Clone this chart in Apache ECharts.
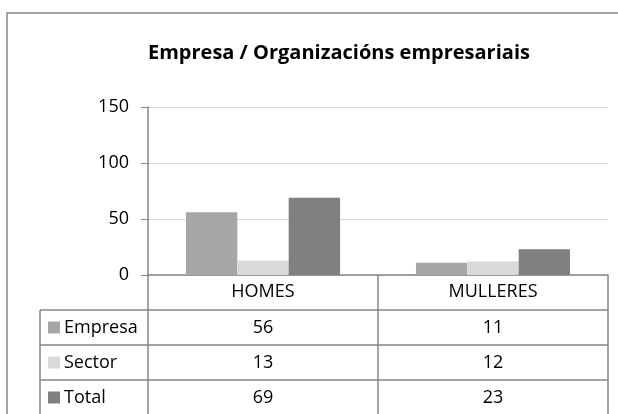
<!DOCTYPE html>
<html>
<head>
<meta charset="utf-8">
<script src="https://cdn.jsdelivr.net/npm/echarts@6/dist/echarts.min.js"></script>
<style>
  html, body { margin: 0; padding: 0; background: #fff; }
  #chart { width: 618px; height: 414px; }
</style>
</head>
<body>
<div id="chart"></div>
<script>
const categories = ['HOMES', 'MULLERES']
const seriesNames = ['Empresa', 'Sector', 'Total']
const empresa = [56, 11]
const sector = [13, 12]
const total = [69, 23]
const yTicks = [0, 50, 100, 150]

const colors = ['#a6a6a6', '#d9d9d9', '#808080']
const lineColor = '#868686'
const font = '"Open Sans", sans-serif'
const fs = 18
const values = [empresa, sector, total]

const chart = echarts.init(document.getElementById('chart'))

chart.setOption({
  animation: false,
  title: {
    text: 'Empresa / Organizacións empresariais',
    left: 143,
    top: 38,
    textStyle: { fontFamily: font, fontSize: 20, fontWeight: 'bold', color: '#000' },
  },
  grid: { left: 148, right: 10, top: 107, bottom: 139 },
  xAxis: {
    type: 'category',
    data: categories,
    axisLine: { lineStyle: { color: lineColor, width: 1.5 } },
    axisTick: { show: false },
    axisLabel: { color: '#000', fontFamily: font, fontSize: fs, margin: 8 },
  },
  yAxis: {
    type: 'value',
    min: yTicks[0],
    max: yTicks[yTicks.length - 1],
    interval: 50,
    axisLine: { show: true, lineStyle: { color: lineColor, width: 1.5 } },
    axisTick: { show: true, length: 7, lineStyle: { color: lineColor } },
    axisLabel: { color: '#000', fontFamily: font, fontSize: fs, margin: 19 },
    splitLine: { lineStyle: { color: '#d9d9d9' } },
  },
  series: seriesNames.map((name, i) => ({
    name,
    type: 'bar',
    data: values[i],
    barGap: '0%',
    barCategoryGap: '33%',
    itemStyle: { color: colors[i] },
  })),
})

// data table under the plot
function drawTable() {
  const yBase = chart.convertToPixel({ yAxisIndex: 0 }, 0)
  const left = 148, right = 608, legendLeft = 40
  const rowH = 35
  const bottom = 414
  const mid = (left + right) / 2
  const lines = []
  const ln = (x1, y1, x2, y2) => lines.push({
    type: 'line', silent: true,
    shape: { x1, y1, x2, y2 },
    style: { stroke: lineColor, lineWidth: 1.5 },
  })
  // verticals
  ln(left, yBase, left, bottom)
  ln(mid, yBase, mid, bottom)
  ln(right, yBase, right, bottom)
  ln(legendLeft, yBase + rowH, legendLeft, bottom)
  // horizontals
  for (let r = 1; r <= seriesNames.length; r++) {
    ln(legendLeft, yBase + rowH * r, right, yBase + rowH * r)
  }
  const texts = []
  seriesNames.forEach((name, i) => {
    const cy = yBase + rowH * (i + 1) + rowH / 2
    texts.push({
      type: 'rect', silent: true,
      shape: { x: 48, y: cy - 6, width: 12, height: 12 },
      style: { fill: colors[i] },
    })
    texts.push({
      type: 'text', silent: true,
      x: 64, y: cy,
      style: { text: name, fontFamily: font, fontSize: fs, fill: '#000', verticalAlign: 'middle' },
    })
    categories.forEach((c, j) => {
      const cx = chart.convertToPixel({ xAxisIndex: 0 }, c)
      texts.push({
        type: 'text', silent: true,
        x: cx, y: cy,
        style: { text: String(values[i][j]), fontFamily: font, fontSize: fs, fill: '#000', align: 'center', verticalAlign: 'middle' },
      })
    })
  })
  chart.setOption({
    graphic: [
      {
        type: 'rect', silent: true,
        shape: { x: 7, y: 13, width: 640, height: 440 },
        style: { fill: 'none', stroke: lineColor, lineWidth: 1.5 },
      },
      ...lines,
      ...texts,
    ],
  })
}
drawTable()
</script>
</body>
</html>
